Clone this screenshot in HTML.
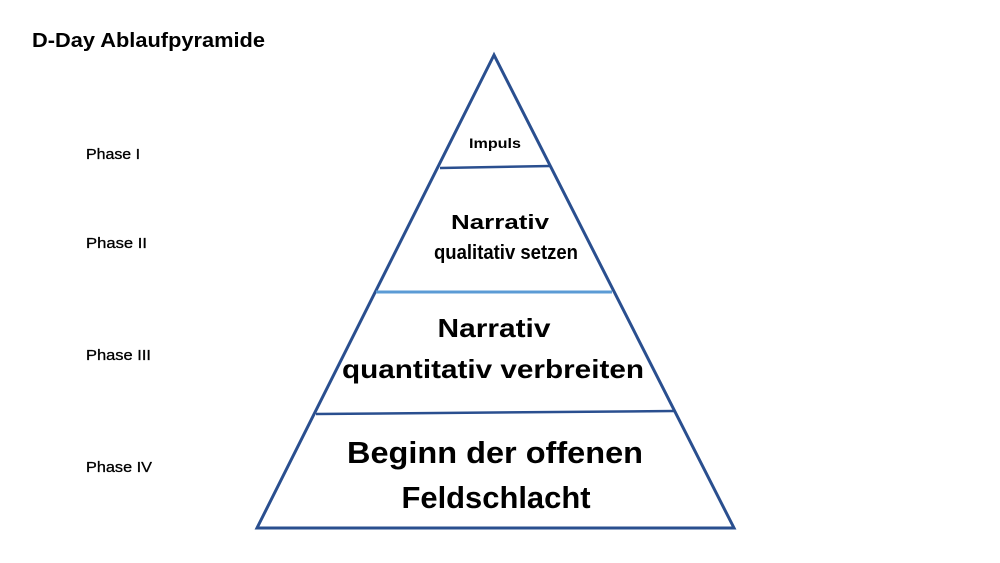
<!DOCTYPE html>
<html><head><meta charset="utf-8"><style>html,body{margin:0;padding:0;background:#fff}svg{display:block}</style></head>
<body>
<svg width="1000" height="563" viewBox="0 0 1000 563" font-family="'Liberation Sans', sans-serif" font-weight="bold" fill="#000">
<text x="32" y="47" font-size="20" textLength="233" lengthAdjust="spacingAndGlyphs">D-Day Ablaufpyramide</text>
<g font-size="15" font-weight="normal" stroke="#000" stroke-width="0.3">
<text x="86" y="159" textLength="54" lengthAdjust="spacingAndGlyphs">Phase I</text>
<text x="86" y="248" textLength="61" lengthAdjust="spacingAndGlyphs">Phase II</text>
<text x="86" y="360" textLength="65" lengthAdjust="spacingAndGlyphs">Phase III</text>
<text x="86" y="472" textLength="66" lengthAdjust="spacingAndGlyphs">Phase IV</text>
</g>
<polygon points="494,55 257,528 734,528" fill="none" stroke="#2a4f8f" stroke-width="3"/>
<line x1="440" y1="168" x2="550" y2="166" stroke="#2a4f8f" stroke-width="2.5"/>
<line x1="376" y1="292" x2="612" y2="292" stroke="#5b9bd5" stroke-width="3"/>
<line x1="316" y1="414" x2="674" y2="411" stroke="#2a4f8f" stroke-width="2.5"/>
<g text-anchor="middle">
<text x="495" y="148" font-size="14" textLength="52" lengthAdjust="spacingAndGlyphs">Impuls</text>
<text x="500" y="229" font-size="20" textLength="98" lengthAdjust="spacingAndGlyphs">Narrativ</text>
<text x="506" y="259" font-size="20" textLength="144" lengthAdjust="spacingAndGlyphs">qualitativ setzen</text>
<text x="494" y="337" font-size="26" textLength="113" lengthAdjust="spacingAndGlyphs">Narrativ</text>
<text x="493" y="378" font-size="26" textLength="302" lengthAdjust="spacingAndGlyphs">quantitativ verbreiten</text>
<text x="495" y="463" font-size="31" textLength="296" lengthAdjust="spacingAndGlyphs">Beginn der offenen</text>
<text x="496" y="508" font-size="31" textLength="189" lengthAdjust="spacingAndGlyphs">Feldschlacht</text>
</g>
</svg>
</body></html>
